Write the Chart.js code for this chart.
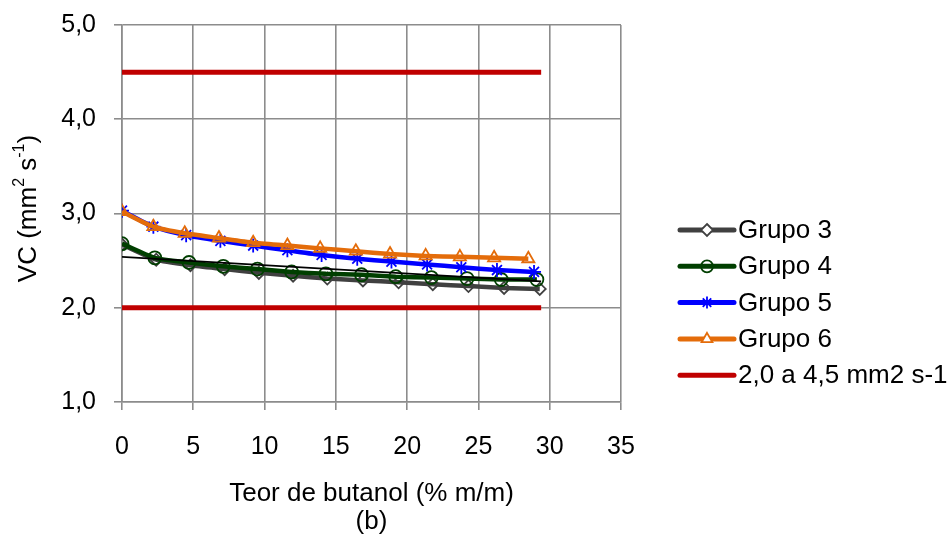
<!DOCTYPE html>
<html>
<head>
<meta charset="utf-8">
<script src="https://cdn.jsdelivr.net/npm/chart.js@4/dist/chart.umd.min.js"></script>
<style>
  html, body { margin: 0; padding: 0; background: #ffffff; }
  #wrap { width: 951px; height: 536px; }
</style>
</head>
<body>
<div id="wrap"><canvas id="c" width="951" height="536"></canvas></div>
<script>
// Butanol content (% m/m) for each group
const xGrupo3 = [0, 2.4, 4.8, 7.2, 9.6, 12.0, 14.4, 16.9, 19.4, 21.8, 24.3, 26.8, 29.3];
const xGrupo4 = [0, 2.3, 4.7, 7.1, 9.5, 11.9, 14.3, 16.8, 19.2, 21.7, 24.2, 26.6, 29.1];
const xGrupo5 = [0, 2.2, 4.5, 6.9, 9.2, 11.6, 14.0, 16.5, 18.9, 21.4, 23.8, 26.3, 28.9];
const xGrupo6 = [0, 2.2, 4.4, 6.8, 9.2, 11.6, 13.9, 16.4, 18.8, 21.3, 23.7, 26.1, 28.5];

// Kinematic viscosity VC (mm2 s-1)
const vcGrupo3 = [2.67, 2.51, 2.45, 2.41, 2.37, 2.34, 2.31, 2.29, 2.27, 2.25, 2.23, 2.21, 2.20];
const vcGrupo4 = [2.68, 2.53, 2.48, 2.44, 2.41, 2.38, 2.36, 2.35, 2.33, 2.32, 2.31, 2.30, 2.30];
const vcGrupo5 = [3.03, 2.86, 2.77, 2.71, 2.66, 2.61, 2.56, 2.52, 2.49, 2.46, 2.43, 2.40, 2.38];
const vcGrupo6 = [3.02, 2.86, 2.79, 2.74, 2.69, 2.66, 2.63, 2.60, 2.57, 2.55, 2.54, 2.53, 2.52];

// Linear trend drawn over the group curves (end points)
const xTrend = [0, 29.4];
const vcTrend = [2.54, 2.28];

// Specification limits 2,0 a 4,5 mm2 s-1
const xLimits = [0, 29.4];
const vcLimitLow = [2.0, 2.0];
const vcLimitHigh = [4.5, 4.5];

// Axis ticks
const xTicks = [0, 5, 10, 15, 20, 25, 30, 35];
const yTicks = [1, 2, 3, 4, 5];

const seriesNames = ['Grupo 3', 'Grupo 4', 'Grupo 5', 'Grupo 6', '2,0 a 4,5 mm2 s-1'];

const FONT = '"Liberation Sans", Arial, sans-serif';
const C3 = '#404040', C4 = '#003f00', C5 = '#0000ff', C6 = '#e46c0a', CR = '#c00000';

function pts(xs, ys) { return xs.map((x, i) => ({ x: x, y: ys[i] })); }

function series(label, xs, ys, color, style, radius, order) {
  return {
    label: label,
    data: pts(xs, ys),
    borderColor: color,
    backgroundColor: 'rgba(0,0,0,0)',
    borderWidth: 4.5,
    pointStyle: style,
    pointRadius: radius,
    pointBorderColor: color,
    pointBackgroundColor: 'rgba(0,0,0,0)',
    pointBorderWidth: 1.8,
    tension: 0.2,
    order: order
  };
}

const datasets = [
  series(seriesNames[0], xGrupo3, vcGrupo3, C3, 'rectRot', 6, 4),
  series(seriesNames[1], xGrupo4, vcGrupo4, C4, 'circle', 6.5, 3),
  series(seriesNames[2], xGrupo5, vcGrupo5, C5, 'star', 7, 2),
  series(seriesNames[3], xGrupo6, vcGrupo6, C6, 'triangle', 7, 1),
  { label: seriesNames[4], data: pts(xLimits, vcLimitLow), borderColor: CR, borderWidth: 5, pointRadius: 0, order: 5 },
  { label: seriesNames[4] + ' ', data: pts(xLimits, vcLimitHigh), borderColor: CR, borderWidth: 5, pointRadius: 0, order: 5, noLegend: true },
  { label: 'Linear', data: pts(xTrend, vcTrend), borderColor: '#000000', borderWidth: 1.6, pointRadius: 0, order: 0, noLegend: true }
];

// Small marker drawer used by the legend
function marker(ctx, style, x, y, r, color) {
  ctx.save();
  ctx.strokeStyle = color;
  ctx.lineWidth = 1.8;
  ctx.beginPath();
  if (style === 'rectRot') {
    ctx.moveTo(x, y - r); ctx.lineTo(x + r, y); ctx.lineTo(x, y + r); ctx.lineTo(x - r, y); ctx.closePath();
    ctx.fillStyle = '#ffffff'; ctx.fill();
  } else if (style === 'circle') {
    ctx.arc(x, y, r, 0, Math.PI * 2);
  } else if (style === 'triangle') {
    ctx.moveTo(x, y - r); ctx.lineTo(x + r * 0.9, y + r * 0.55); ctx.lineTo(x - r * 0.9, y + r * 0.55); ctx.closePath();
    ctx.fillStyle = '#ffffff'; ctx.fill();
  } else if (style === 'star') {
    for (let k = 0; k < 4; k++) {
      const a = k * Math.PI / 4;
      ctx.moveTo(x - r * Math.cos(a), y - r * Math.sin(a));
      ctx.lineTo(x + r * Math.cos(a), y + r * Math.sin(a));
    }
  }
  ctx.stroke();
  ctx.restore();
}

const sideLegend = {
  id: 'sideLegend',
  afterDraw(chart) {
    const ctx = chart.ctx;
    const items = chart.data.datasets.filter(d => !d.noLegend);
    const x0 = 680, x1 = 734, yStart = 230, gap = 36.3;
    items.forEach((d, i) => {
      const y = yStart + i * gap;
      ctx.save();
      ctx.strokeStyle = d.borderColor;
      ctx.lineWidth = 5;
      ctx.lineCap = 'round';
      ctx.beginPath(); ctx.moveTo(x0, y); ctx.lineTo(x1, y); ctx.stroke();
      ctx.restore();
      if (d.pointRadius > 0) marker(ctx, d.pointStyle, (x0 + x1) / 2, y, 6, d.borderColor);
      ctx.save();
      ctx.fillStyle = '#000000';
      ctx.font = '26px ' + FONT;
      ctx.textBaseline = 'middle';
      ctx.textAlign = 'left';
      ctx.fillText(d.label, 738, y + 1);
      ctx.restore();
    });
  }
};

// Y axis title with superscripts: VC (mm² s⁻¹)
const yTitle = {
  id: 'yTitle',
  afterDraw(chart) {
    const ctx = chart.ctx;
    const area = chart.chartArea;
    const big = '26px ' + FONT, small = '16px ' + FONT;
    const parts = [['VC (mm', big, 0], ['2', small, -9], [' s', big, 0], ['-1', small, -9], [')', big, 0]];
    ctx.save();
    let w = 0;
    parts.forEach(p => { ctx.font = p[1]; w += ctx.measureText(p[0]).width; });
    ctx.translate(29, (area.top + area.bottom) / 2 - 5);
    ctx.rotate(-Math.PI / 2);
    ctx.fillStyle = '#000000';
    ctx.textBaseline = 'middle';
    ctx.textAlign = 'left';
    let x = -w / 2;
    parts.forEach(p => {
      ctx.font = p[1];
      ctx.fillText(p[0], x, p[2]);
      x += ctx.measureText(p[0]).width;
    });
    ctx.restore();
  }
};

new Chart(document.getElementById('c'), {
  type: 'line',
  data: { datasets: datasets },
  options: {
    responsive: false,
    devicePixelRatio: 1,
    animation: false,
    layout: { padding: { left: 0, top: 25, right: 330, bottom: 0 } },
    plugins: { legend: { display: false }, tooltip: { enabled: false } },
    scales: {
      x: {
        type: 'linear',
        min: xTicks[0],
        max: xTicks[xTicks.length - 1],
        afterBuildTicks(s) { s.ticks = xTicks.map(v => ({ value: v })); },
        afterFit(s) { s.height = 134; s.paddingLeft = 0; s.paddingRight = 0; },
        grid: { color: '#8c8c8c', lineWidth: 1.6, tickLength: 8, drawTicks: true },
        border: { color: '#8c8c8c', width: 1.6 },
        ticks: { color: '#000000', font: { size: 25, family: FONT }, padding: 22, maxRotation: 0 },
        title: {
          display: true,
          text: ['Teor de butanol (% m/m)', '(b)'],
          color: '#000000',
          font: { size: 26, family: FONT, lineHeight: '28px' },
          padding: { top: 0, bottom: 0 }
        }
      },
      y: {
        type: 'linear',
        min: yTicks[0],
        max: yTicks[yTicks.length - 1],
        afterBuildTicks(s) { s.ticks = yTicks.map(v => ({ value: v })); },
        afterFit(s) { s.width = 122; s.paddingTop = 0; s.paddingBottom = 0; },
        grid: { color: '#8c8c8c', lineWidth: 1.6, tickLength: 8, drawTicks: true },
        border: { color: '#8c8c8c', width: 1.6 },
        ticks: {
          color: '#000000',
          font: { size: 25, family: FONT },
          padding: 18,
          callback: v => v.toFixed(1).replace('.', ',')
        }
      }
    }
  },
  plugins: [sideLegend, yTitle]
});
</script>
</body>
</html>
